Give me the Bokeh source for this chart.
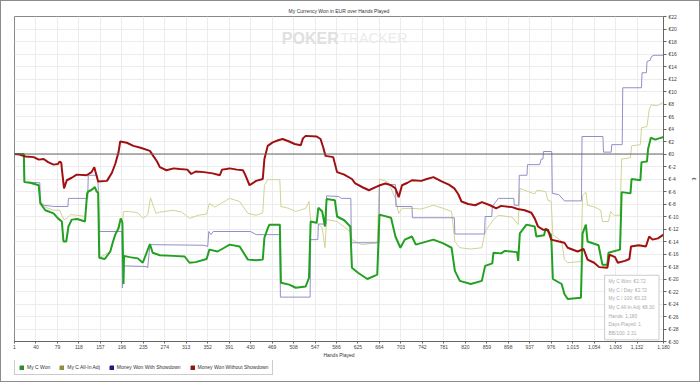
from bokeh.plotting import figure
from bokeh.layouts import column
from bokeh.models import Range1d, FixedTicker, Span, Label, Legend, LegendItem
from bokeh.embed import file_html
from bokeh.resources import INLINE

# ---- data -------------------------------------------------------------
title = "My Currency Won in EUR over Hands Played"

won_h = [1, 18, 19, 30, 45, 48, 57, 72, 80, 87, 90, 95, 99, 105, 115, 129, 133, 135, 140, 147, 150, 153,
         155, 165, 175, 180, 184, 190, 194, 197, 199, 200, 210, 225, 234, 241, 247, 252, 265, 289, 310,
         319, 330, 350, 355, 370, 386, 392, 410, 425, 440, 452, 455, 461, 464, 483, 485, 500, 512, 530,
         536, 539, 550, 553, 560, 565, 568, 583, 587, 600, 611, 614, 625, 642, 660, 664, 685, 693, 702,
         710, 723, 730, 762, 780, 795, 801, 810, 830, 850, 856, 869, 871, 885, 892, 914, 916, 919, 931,
         946, 949, 963, 966, 976, 979, 995, 1000, 1006, 1030, 1033, 1039, 1042, 1062, 1069, 1078, 1080,
         1101, 1104, 1120, 1122, 1138, 1140, 1150, 1152, 1157, 1165, 1172, 1180]
won_v = [0, 0, -4.5, -4.6, -5.0, -7.9, -9.0, -9.5, -10.3, -10.8, -14.0, -14.0, -11.6, -10.5, -10.4, -10.8,
         -6.3, -6.0, -5.8, -5.3, -6.0, -6.2, -16.6, -16.8, -15.6, -14.0, -12.9, -11.9, -10.3, -11.0, -20.8,
         -16.3, -16.5, -16.7, -17.4, -15.8, -14.4, -15.8, -16.2, -16.3, -16.4, -17.4, -17.3, -16.8, -15.3,
         -15.6, -14.8, -14.5, -14.8, -16.9, -17.0, -16.9, -13.4, -11.9, -11.3, -11.3, -20.6, -20.9, -21.4,
         -21.2, -19.8, -10.8, -11.0, -8.6, -9.2, -11.6, -7.2, -7.4, -10.0, -10.6, -11.6, -18.2, -19.0,
         -20.0, -19.3, -9.7, -10.2, -13.2, -15.0, -13.7, -13.2, -14.5, -13.7, -14.3, -15.0, -18.7, -20.3,
         -20.8, -20.3, -17.9, -17.5, -15.8, -15.9, -15.5, -15.7, -17.1, -12.7, -11.3, -11.6, -13.2, -13.0,
         -11.9, -13.0, -20.0, -20.8, -22.4, -23.2, -23.0, -12.7, -11.3, -14.0, -14.6, -17.7, -17.7, -15.8,
         -15.3, -6.1, -6.3, -4.0, -4.2, -1.3, -1.2, 0.8, 2.6, 2.3, 2.5, 2.72]

adj_h = [1, 18, 19, 45, 48, 57, 72, 83, 87, 91, 96, 103, 115, 129, 133, 147, 153, 155, 175, 184, 194, 197,
         199, 210, 225, 235, 243, 248, 252, 258, 265, 289, 305, 319, 335, 350, 355, 365, 386, 392, 410,
         425, 440, 452, 455, 461, 483, 485, 500, 512, 530, 536, 539, 553, 560, 565, 568, 587, 611, 614,
         632, 660, 664, 680, 693, 699, 705, 723, 740, 762, 780, 795, 801, 810, 830, 850, 856, 871, 880,
         905, 916, 919, 931, 946, 950, 966, 970, 976, 979, 995, 1000, 1006, 1030, 1033, 1039, 1042, 1055,
         1066, 1069, 1080, 1084, 1090, 1101, 1104, 1120, 1122, 1138, 1140, 1150, 1154, 1158, 1168, 1180]
adj_v = [0, 0, -4.5, -5.0, -7.6, -8.5, -9.0, -9.0, -9.8, -10.5, -10.3, -9.7, -9.8, -10.0, -6.3, -5.3, -6.2,
         -16.6, -15.6, -12.9, -10.3, -11.0, -9.2, -9.2, -9.4, -10.3, -9.7, -7.0, -8.0, -9.5, -9.3, -9.0,
         -9.3, -10.3, -9.8, -9.6, -7.9, -8.5, -7.4, -7.1, -7.6, -9.5, -9.8, -9.4, -5.0, -4.1, -4.1, -8.4,
         -8.7, -9.2, -8.7, -7.6, -10.8, -11.2, -11.8, -15.0, -10.5, -10.8, -12.4, -13.7, -14.5, -14.2,
         -4.0, -4.5, -7.1, -9.5, -8.7, -8.7, -8.8, -8.2, -8.7, -9.2, -14.0, -15.0, -15.2, -15.0, -12.4,
         -10.5, -9.8, -10.1, -11.3, -5.5, -5.9, -6.4, -5.8, -6.0, -7.4, -7.6, -12.9, -14.0, -16.9, -17.4,
         -17.2, -6.6, -6.1, -8.2, -8.5, -9.0, -10.8, -10.8, -9.2, -9.8, -9.8, -0.8, -0.6, 1.3, 1.5, 4.2,
         4.4, 7.1, 7.9, 7.7, 8.3]

sd_h = [1, 18, 19, 47, 48, 55, 72, 98, 99, 134, 135, 151, 153, 155, 196, 197, 200, 240, 243, 247, 345,
        352, 354, 358, 362, 430, 440, 483, 484, 538, 539, 552, 553, 567, 568, 590, 595, 612, 613, 663,
        664, 693, 694, 723, 724, 800, 801, 855, 856, 868, 869, 880, 908, 909, 917, 918, 932, 933, 955,
        958, 961, 962, 977, 978, 990, 1000, 1031, 1032, 1070, 1071, 1085, 1086, 1105, 1106, 1140, 1141,
        1149, 1150, 1156, 1158, 1163, 1180]
sd_v = [0, 0, -4.5, -4.6, -7.9, -8.2, -8.4, -8.4, -7.1, -7.1, -3.4, -3.4, -5.0, -12.4, -12.4, -21.4,
        -17.9, -18.0, -18.2, -14.5, -14.6, -14.8, -12.4, -12.9, -12.4, -12.4, -12.9, -12.9, -22.9, -22.9,
        -13.7, -13.7, -11.2, -11.2, -6.7, -6.8, -7.1, -7.1, -14.2, -14.2, -4.9, -4.9, -8.4, -8.4, -10.2,
        -10.2, -12.8, -12.8, -10.0, -10.0, -8.4, -7.1, -7.1, -8.2, -8.2, -3.4, -3.4, -1.7, -1.7, -0.8,
        -0.8, 0.4, 0.4, -6.3, -6.5, -7.5, -7.5, 2.8, 2.8, 0.3, 0.3, 1.5, 1.5, 10.6, 10.6, 13.0, 13.0,
        14.8, 15.0, 15.6, 15.8, 15.8]

nsd_h = [1, 10, 21, 36, 45, 54, 62, 72, 80, 83, 86, 87, 91, 96, 105, 114, 132, 141, 146, 148, 153, 169,
         178, 184, 190, 193, 205, 217, 230, 247, 253, 260, 265, 277, 290, 301, 315, 322, 330, 345, 361,
         374, 378, 386, 392, 405, 416, 420, 428, 440, 452, 455, 461, 470, 480, 488, 500, 510, 521, 525,
         530, 550, 557, 562, 566, 580, 587, 600, 614, 620, 635, 645, 657, 665, 675, 685, 693, 699, 705,
         715, 723, 740, 750, 762, 775, 790, 800, 807, 813, 825, 838, 850, 865, 876, 885, 905, 915, 928,
         940, 946, 952, 961, 970, 976, 990, 1000, 1006, 1024, 1035, 1042, 1054, 1063, 1078, 1082, 1092,
         1097, 1110, 1118, 1121, 1135, 1148, 1154, 1160, 1170, 1180]
nsd_v = [0, -0.1, -0.4, -0.5, -0.9, -0.8, -1.3, -1.7, -1.6, -1.2, -1.4, -2.4, -5.5, -4.2, -3.8, -3.3,
         -3.4, -2.9, -2.1, -2.8, -4.4, -4.3, -3.0, -1.6, 0.3, 2.0, 1.8, 1.3, 1.0, 0.5, -0.3, -1.2, -2.1,
         -2.6, -2.3, -2.4, -2.5, -3.2, -2.8, -2.9, -3.1, -3.4, -2.5, -2.4, -2.3, -2.5, -2.6, -3.3, -5.0,
         -4.3, -4.0, -0.8, 1.3, 1.85, 2.2, 2.4, 2.0, 1.6, 1.4, 2.5, 2.9, 2.8, 2.4, 1.0, -0.3, -0.5, -2.9,
         -3.3, -4.0, -4.7, -5.4, -5.8, -5.3, -5.0, -4.7, -5.0, -5.5, -6.9, -5.0, -4.6, -4.2, -4.3, -4.0,
         -3.7, -4.3, -4.9, -5.5, -6.4, -7.6, -8.0, -8.2, -7.7, -8.2, -8.7, -8.3, -8.5, -8.8, -9.0, -9.4,
         -10.3, -11.6, -12.1, -12.1, -13.7, -14.0, -14.2, -15.0, -15.6, -15.2, -16.9, -17.4, -18.1, -18.2,
         -16.1, -16.5, -17.4, -17.1, -16.8, -14.8, -14.6, -14.8, -13.2, -13.7, -13.5, -12.9]

series_names = ["My C Won", "My C All-In Adj", "Money Won With Showdown", "Money Won Without Showdown"]

x_ticks = [1 + 39 * k for k in range(30)] + [1180]
y_ticks = list(range(-30, 23, 2))

stats_lines = ["My C Won: €2.72", "My C / Day: €2.72", "My C / 100: €0.23", "My C All-In Adj: €8.30",
               "Hands: 1,180", "Days Played: 1", "BB/100: 2.31"]

# ---- main figure ------------------------------------------------------
FONT = "Liberation Sans"
FS = "5px"
p = figure(width=698, height=359, output_backend="svg", toolbar_location=None,
           x_range=Range1d(1, 1180), y_range=Range1d(-30, 22), y_axis_location="right",
           title=title)
p.min_border_left = 13
p.min_border_right = 33
p.min_border_top = 15
p.min_border_bottom = 15
p.background_fill_color = "white"
p.border_fill_color = "white"
p.outline_line_color = "#888888"

p.title.text_font = FONT
p.title.text_font_size = FS
p.title.text_font_style = "normal"
p.title.text_color = "#333333"
p.title.align = "center"
p.title.standoff = 6
p.title.offset = 0

xa = p.xaxis[0]
xa.ticker = FixedTicker(ticks=x_ticks)
xa.major_label_overrides = {t: f"{t:,}" for t in x_ticks}
xa.axis_label = "Hands Played"
ya = p.yaxis[0]
ya.ticker = FixedTicker(ticks=y_ticks)
ya.major_label_overrides = {t: f"€{t}" for t in y_ticks}
ya.axis_label = "€"
for ax in (xa, ya):
    ax.axis_label_text_font = FONT
    ax.axis_label_text_font_size = FS
    ax.axis_label_text_font_style = "normal"
    ax.axis_label_text_color = "#333333"
    ax.major_label_text_font = FONT
    ax.major_label_text_font_size = FS
    ax.major_label_text_color = "#444444"
    ax.axis_line_color = "#666666"
    ax.major_tick_line_color = "#666666"
    ax.major_tick_out = 2
    ax.major_tick_in = 0
    ax.minor_tick_line_color = None
    ax.major_label_standoff = 1
    ax.axis_label_standoff = 0
ya.major_tick_out = 3
ya.major_label_standoff = 2
ya.axis_label_standoff = 9

p.xgrid.ticker = FixedTicker(ticks=x_ticks)
p.ygrid.ticker = FixedTicker(ticks=y_ticks)
p.xgrid.grid_line_color = "#ececec"
p.ygrid.grid_line_color = "#ececec"

# watermark
p.add_layout(Label(x=590, y=18.5, text="POKER", text_align="right", text_baseline="middle",
                   text_font=FONT, text_font_size="16px", text_font_style="bold",
                   text_color="#e0e0e0"))
p.add_layout(Label(x=593, y=18.5, text="TRACKER", text_align="left", text_baseline="middle",
                   text_font=FONT, text_font_size="14px", text_font_style="normal",
                   text_color="#ebebeb"))

# zero line
p.add_layout(Span(location=0, dimension="width", line_color="#666666", line_width=1))

# series lines
p.line(adj_h, adj_v, line_color="#d2d296", line_width=1)
p.line(sd_h, sd_v, line_color="#9090c8", line_width=1)
p.line(won_h, won_v, line_color="#22a022", line_width=2)
p.line(nsd_h, nsd_v, line_color="#a01010", line_width=2)

# stats box
p.add_layout(Label(x=1073, y=-19.4, text="\n".join(stats_lines), text_align="left",
                   text_baseline="top", text_font=FONT, text_font_size="4.8px",
                   text_color="#aaaaaa", text_line_height=1.72,
                   border_line_color="#cccccc", background_fill_color="white",
                   padding=4))

# ---- legend strip (its frame is aligned with the main plot frame) -------
lf = figure(width=698, height=21, output_backend="svg", toolbar_location=None,
            x_range=Range1d(0, 1), y_range=Range1d(0, 1),
            x_axis_type=None, y_axis_type=None)
lf.grid.visible = False
lf.outline_line_color = None
lf.min_border_left = 0
lf.min_border_right = 0
lf.min_border_top = 0
lf.min_border_bottom = 0
swatch_colors = ["#2e8b2e", "#8f8f3f", "#1c1c80", "#8b1a1a"]
items = []
for name, c in zip(series_names, swatch_colors):
    r = lf.quad(left=[-5], right=[-4], bottom=[-5], top=[-4], fill_color=c, line_color=c)
    items.append(LegendItem(label=name, renderers=[r]))
legend = Legend(items=items, orientation="horizontal", location=(0, 6),
                label_text_font=FONT, label_text_font_size=FS, label_text_color="#333333",
                glyph_height=5, glyph_width=5, label_height=5, label_standoff=3, spacing=9,
                padding=4, margin=0, border_line_color="#999999", background_fill_alpha=1)
lf.add_layout(legend, "center")

layout = column(p, lf, spacing=0, styles={"border": "1px solid #8c8c8c"})
open("out.html", "w").write(file_html(layout, INLINE))
